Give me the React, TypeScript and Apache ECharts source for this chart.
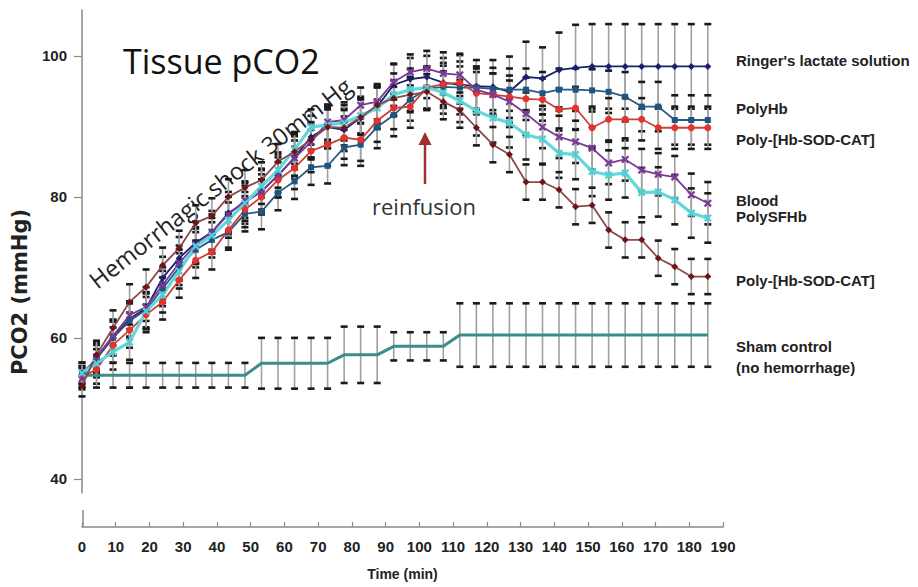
import React, { useEffect, useRef } from "react";
import * as echarts from "echarts";

// Time points (min)
const timeMin = [0, 4.3, 9.2, 14.1, 19.0, 23.9, 28.8, 33.7, 38.5, 43.4, 48.3, 53.2, 58.1, 63.0, 67.9, 72.8, 77.7, 82.6, 87.5, 92.4, 97.3, 102.2, 107.1, 112.0, 116.9, 121.8, 126.7, 131.6, 136.5, 141.4, 146.3, 151.2, 156.1, 161.0, 165.9, 170.8, 175.7, 180.6, 185.5];

const ringer = [54.5, 57.2, 60.1, 62.7, 64.2, 68.5, 71.3, 73.5, 75.0, 77.7, 79.2, 80.8, 83.0, 85.6, 88.5, 89.9, 89.5, 91.2, 92.8, 95.9, 96.7, 97.0, 96.2, 95.9, 95.7, 95.6, 94.9, 97.0, 96.8, 98.0, 98.3, 98.5, 98.5, 98.5, 98.5, 98.5, 98.5, 98.5, 98.5];
const ringerSd = [1.5, 2, 2.5, 2.5, 3, 3, 3, 3, 3, 3, 3, 3, 3, 3, 3, 3, 3, 3, 3, 3, 3, 3, 3.5, 4.2, 3.7, 3.8, 5, 5, 4.4, 5.3, 6.1, 6, 6, 6, 6, 6, 6, 6, 6];

const polyHb = [55.0, 57.0, 60.0, 62.4, 64.0, 67.0, 70.0, 72.5, 73.9, 75.0, 77.6, 77.9, 80.6, 82.2, 84.2, 84.4, 87.0, 87.4, 89.9, 91.6, 93.8, 95.3, 95.6, 95.5, 95.5, 95.3, 95.2, 95.2, 94.7, 95.2, 95.2, 95.1, 94.9, 94.2, 92.8, 92.8, 90.9, 90.9, 90.9];
const polyHbSd = [1.5, 2, 2.5, 2.5, 2.5, 2.5, 2.5, 2.5, 2.5, 2.5, 2.5, 2.5, 2.5, 2.5, 2.5, 2.5, 2.5, 3, 3, 3, 3, 3, 3, 3, 3, 3, 3, 3, 3, 3, 3, 3, 3, 3.5, 3.5, 3.5, 3.5, 3.5, 3.5];

const sodCatRed = [54.5, 55.5, 59.0, 61.1, 63.3, 65.1, 68.2, 71.0, 72.2, 75.3, 78.2, 80.0, 82.4, 84.1, 86.5, 87.4, 88.4, 88.1, 90.8, 92.6, 92.8, 95.5, 96.0, 96.2, 94.7, 94.5, 94.2, 93.9, 93.8, 92.4, 92.6, 89.8, 91.0, 91.0, 91.0, 89.8, 89.8, 89.8, 89.8];
const sodCatRedSd = [1.5, 2, 2.5, 2.5, 2.5, 2.5, 2.5, 2.5, 2.5, 2.5, 2.5, 2.5, 2.5, 3, 3, 3, 3, 3, 3, 3, 3, 3, 3, 3, 3, 3, 3, 3, 3, 3, 3, 3, 3, 3, 3, 3, 3, 3, 3];

const blood = [54.2, 57.3, 60.3, 63.2, 64.4, 67.5, 70.6, 73.2, 75.0, 77.5, 79.5, 80.7, 83.1, 85.5, 87.8, 90.6, 90.9, 93.0, 93.5, 96.3, 97.7, 98.2, 97.5, 97.3, 95.2, 94.5, 93.5, 91.8, 89.9, 88.5, 87.8, 86.9, 84.8, 85.3, 83.8, 83.2, 82.8, 80.3, 79.1];
const bloodSd = [1.5, 2, 2, 2, 2, 2.5, 2.5, 2.5, 2.5, 2.5, 2.5, 2.5, 2.5, 2.5, 2.5, 2.5, 2.5, 2.5, 2.5, 2.5, 2.5, 2.5, 3, 3, 3, 3, 3, 3, 3, 3, 3, 3, 3, 3, 3, 3, 3, 3, 3];

const polySFHb = [55.0, 56.4, 58.0, 59.4, 63.8, 66.1, 69.5, 73.0, 74.5, 76.7, 79.1, 81.5, 83.8, 86.7, 89.9, 90.2, 90.5, 91.5, 92.6, 94.5, 95.2, 95.5, 94.8, 93.6, 92.2, 91.2, 90.5, 88.8, 88.2, 86.2, 86.0, 83.6, 83.1, 83.4, 80.6, 80.7, 79.6, 77.7, 77.0];
const polySFHbSd = [1.5, 2, 2.5, 2.5, 2.5, 2.5, 2.5, 2.5, 2.5, 2.5, 2.5, 2.5, 2.5, 2.5, 2.5, 2.5, 2.5, 2.5, 3, 3, 3, 3, 3, 3, 3.5, 3.5, 3.5, 3.5, 3.5, 3.5, 3.5, 3.5, 3.5, 3.5, 3.5, 3.5, 3.5, 3.5, 3.5];

const sodCatDark = [53.2, 57.6, 61.4, 65.1, 67.2, 70.3, 72.7, 76.3, 77.3, 80.0, 81.3, 82.4, 85.0, 86.4, 88.1, 89.9, 89.8, 91.3, 93.0, 94.0, 94.5, 94.9, 93.5, 92.3, 89.8, 87.4, 86.0, 82.1, 82.1, 81.0, 78.6, 78.8, 75.3, 73.9, 73.9, 71.3, 70.1, 68.7, 68.7];
const sodCatDarkSd = [1.5, 2, 2.5, 2.5, 2.5, 2.5, 2.5, 2.5, 2.5, 2.5, 2.5, 2.5, 2.5, 2.5, 2.5, 2.5, 2.5, 2.5, 2.5, 2.5, 2.5, 2.5, 2.5, 2.5, 2.5, 2.5, 2.5, 2.5, 2.5, 2.5, 2.5, 2.5, 2.5, 2.5, 2.5, 2.5, 2.5, 2.5, 2.5];

const sham = [54.7, 54.7, 54.7, 54.7, 54.7, 54.7, 54.7, 54.7, 54.7, 54.7, 54.7, 56.4, 56.4, 56.4, 56.4, 56.4, 57.6, 57.6, 57.6, 58.8, 58.8, 58.8, 58.8, 60.4, 60.4, 60.4, 60.4, 60.4, 60.4, 60.4, 60.4, 60.4, 60.4, 60.4, 60.4, 60.4, 60.4, 60.4, 60.4];
const shamSd = [0, 1.75, 1.75, 1.75, 1.75, 1.75, 1.75, 1.75, 1.75, 1.75, 1.75, 3.6, 3.6, 3.6, 3.6, 3.6, 4, 4, 4, 2, 2, 2, 2, 4.5, 4.5, 4.5, 4.5, 4.5, 4.5, 4.5, 4.5, 4.5, 4.5, 4.5, 4.5, 4.5, 4.5, 4.5, 4.5];

const yTicks = [40, 60, 80, 100];

const seriesLabels = [
  { text: "Ringer's lactate solution", y: 60 },
  { text: "PolyHb", y: 108 },
  { text: "Poly-[Hb-SOD-CAT]", y: 139 },
  { text: "Blood", y: 200 },
  { text: "PolySFHb", y: 216 },
  { text: "Poly-[Hb-SOD-CAT]", y: 280 },
  { text: "Sham control", y: 346 },
  { text: "(no hemorrhage)", y: 367 },
];

const xMark = "path://M2,0L5,3L8,0L10,2L7,5L10,8L8,10L5,7L2,10L0,8L3,5L0,2Z";

const groups = [
  { name: "Ringer's lactate solution", v: ringer, sd: ringerSd, color: "#1b206e", line: "#1b206e", symbol: "diamond", size: 7, width: 1.8 },
  { name: "PolyHb", v: polyHb, sd: polyHbSd, color: "#1d5580", line: "#2a5a7e", symbol: "rect", size: 6, width: 1.8 },
  { name: "Poly-[Hb-SOD-CAT] (red)", v: sodCatRed, sd: sodCatRedSd, color: "#e5332b", line: "#c9403a", symbol: "circle", size: 7, width: 1.8 },
  { name: "Blood", v: blood, sd: bloodSd, color: "#7b3a96", line: "#7b3a96", symbol: xMark, size: 8, width: 1.8 },
  { name: "PolySFHb", v: polySFHb, sd: polySFHbSd, color: "#4fd0d6", line: "#62d8dc", symbol: xMark, size: 8, width: 3.2 },
  { name: "Poly-[Hb-SOD-CAT] (dark)", v: sodCatDark, sd: sodCatDarkSd, color: "#6e1518", line: "#8a4a4e", symbol: "diamond", size: 7, width: 1.8 },
];

function errorSeries(name: string, v: number[], sd: number[]) {
  return {
    name: name + " SD",
    type: "custom",
    z: 1,
    silent: true,
    encode: { x: 0, y: [1, 2] },
    data: timeMin
      .map((t, i) => [t, v[i] - sd[i], v[i] + sd[i], sd[i]])
      .filter((d) => d[3] > 0),
    renderItem: (params: any, api: any) => {
      const x = api.value(0);
      const top = api.coord([x, api.value(2)]);
      const bot = api.coord([x, api.value(1)]);
      return {
        type: "group",
        children: [
          { type: "line", shape: { x1: top[0], y1: top[1], x2: bot[0], y2: bot[1] }, style: { stroke: "#a0a0a0", lineWidth: 1.6 } },
          { type: "rect", shape: { x: top[0] - 3.5, y: top[1] - 1.3, width: 7, height: 2.6 }, style: { fill: "#1a1a1a" } },
          { type: "rect", shape: { x: bot[0] - 3.5, y: bot[1] - 1.3, width: 7, height: 2.6 }, style: { fill: "#1a1a1a" } },
        ],
      };
    },
  };
}

export default function App() {
  const ref = useRef<HTMLDivElement>(null);
  useEffect(() => {
    if (!ref.current) return;
    const chart = echarts.init(ref.current, undefined, { renderer: "svg" });
    const tickFont = { fontFamily: "Liberation Sans, Arial, sans-serif", fontWeight: "bold" as const, fontSize: 15, color: "#222" };

    const series: any[] = [];
    groups.forEach((g) => series.push(errorSeries(g.name, g.v, g.sd)));
    series.push(errorSeries("Sham control", sham, shamSd));
    series.push({
      name: "Sham control",
      type: "line",
      z: 3,
      data: timeMin.map((t, i) => [t, sham[i]]),
      showSymbol: false,
      symbol: "none",
      lineStyle: { color: "#3b8c8a", width: 3 },
    });
    groups.forEach((g) =>
      series.push({
        name: g.name,
        type: "line",
        z: 4,
        data: timeMin.map((t, i) => [t, g.v[i]]),
        symbol: g.symbol,
        symbolSize: g.size,
        itemStyle: { color: g.color },
        lineStyle: { color: g.line, width: g.width },
      })
    );

    const textFont = "Liberation Sans, Arial, sans-serif";

    chart.setOption({
      animation: false,
      backgroundColor: "#ffffff",
      grid: { left: 82, right: 195, top: 10, bottom: 94, containLabel: false },
      xAxis: {
        type: "value",
        min: 0,
        max: 190,
        interval: 10,
        offset: 34,
        position: "bottom",
        name: "Time (min)",
        nameLocation: "middle",
        nameGap: 40,
        nameTextStyle: { fontFamily: textFont, fontWeight: "bold", fontSize: 14, color: "#222" },
        axisLine: { show: true, lineStyle: { color: "#8a8a8a", width: 1.5 } },
        axisTick: { show: true, inside: true, length: 5, lineStyle: { color: "#8a8a8a", width: 1.2 } },
        axisLabel: { ...tickFont, margin: 12 },
        splitLine: { show: false },
      },
      yAxis: {
        type: "value",
        min: 38,
        max: 106.5,
        axisLine: { show: true, lineStyle: { color: "#8a8a8a", width: 1.5 } },
        axisTick: { show: true, length: 8, customValues: yTicks, lineStyle: { color: "#8a8a8a", width: 1.2 } },
        axisLabel: { ...tickFont, margin: 15, customValues: yTicks },
        splitLine: { show: false },
      },
      series,
      graphic: [
        { type: "line", shape: { x1: 83, y1: 510, x2: 83, y2: 527 }, style: { stroke: "#8a8a8a", lineWidth: 1.5 } },
        {
          type: "text",
          x: 20,
          y: 292,
          rotation: Math.PI / 2,
          style: { text: "PCO2 (mmHg)", font: "bold 21px 'DejaVu Sans', sans-serif", fill: "#222", textAlign: "center", textVerticalAlign: "middle" },
        },
        {
          type: "text",
          x: 123,
          y: 61,
          style: { text: "Tissue pCO2", font: "34px 'Open Sans', sans-serif", fill: "#111", textAlign: "left", textVerticalAlign: "middle" },
        },
        {
          type: "text",
          x: 92,
          y: 283,
          rotation: (38 * Math.PI) / 180,
          style: { text: "Hemorrhagic shock 30mm Hg", font: "23.5px 'Open Sans', sans-serif", fill: "#222", textAlign: "left", textVerticalAlign: "middle" },
        },
        {
          type: "text",
          x: 372,
          y: 206,
          style: { text: "reinfusion", font: "22px 'Open Sans', sans-serif", fill: "#333", textAlign: "left", textVerticalAlign: "middle" },
        },
        { type: "line", shape: { x1: 425, y1: 184, x2: 425, y2: 140 }, style: { stroke: "#9e2f2c", lineWidth: 2.5 } },
        { type: "polygon", shape: { points: [[418.5, 145], [425, 132], [431.5, 145]] }, style: { fill: "#9e2f2c" } },
        ...seriesLabels.map((l) => ({
          type: "text",
          x: 736,
          y: l.y,
          style: { text: l.text, font: `bold 15px ${textFont}`, fill: "#222", textAlign: "left", textVerticalAlign: "middle" },
        })),
      ],
    });
    return () => chart.dispose();
  }, []);
  return <div ref={ref} style={{ position: "fixed", left: 0, top: 0, width: 918, height: 587, background: "#fff" }} />;
}
